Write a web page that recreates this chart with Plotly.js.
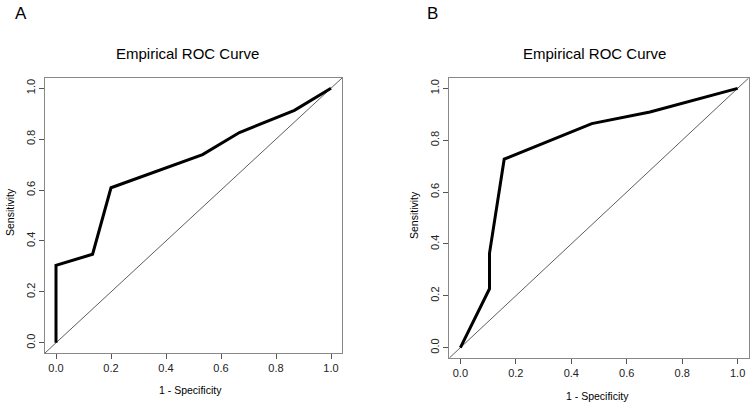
<!DOCTYPE html>
<html>
<head>
<meta charset="utf-8">
<script src="https://cdn.plot.ly/plotly-3.0.1.min.js"></script>
<style>html,body{margin:0;padding:0;background:#fff}#chart{width:754px;height:406px}</style>
</head>
<body>
<div id="chart"></div>
<script>
// Panel A ROC points
const fprA = [0, 0, 0.133, 0.2, 0.533, 0.667, 0.867, 1];
const tprA = [0, 0.304, 0.348, 0.609, 0.739, 0.826, 0.913, 1];
// Panel B ROC points
const fprB = [0, 0.105, 0.105, 0.158, 0.474, 0.684, 1];
const tprB = [0, 0.227, 0.364, 0.727, 0.864, 0.909, 1];
// Reference diagonal
const diag = [-0.04, 1.04];
const tickVals = [0, 0.2, 0.4, 0.6, 0.8, 1.0];
const panelLabels = ["A", "B"];
const plotTitle = "Empirical ROC Curve";
const xTitle = "1 - Specificity";
const yTitle = "Sensitivity";

const W = 754, H = 406;
const px = v => v / W;
const py = v => 1 - v / H;

const FONT = "Liberation Sans, Arial, sans-serif";

const traces = [
  {x: diag, y: diag, mode: "lines", line: {color: "#333", width: 0.8}, xaxis: "x", yaxis: "y", hoverinfo: "skip"},
  {x: fprA, y: tprA, mode: "lines", line: {color: "#000", width: 3}, xaxis: "x", yaxis: "y"},
  {x: diag, y: diag, mode: "lines", line: {color: "#333", width: 0.8}, xaxis: "x2", yaxis: "y2", hoverinfo: "skip"},
  {x: fprB, y: tprB, mode: "lines", line: {color: "#000", width: 3}, xaxis: "x2", yaxis: "y2"}
];

function ax(domain, anchor, isY) {
  return {
    domain: domain, anchor: anchor, range: [-0.04, 1.04],
    tickvals: tickVals, tickformat: ".1f",
    ticks: "outside", ticklen: 5, tickwidth: 1, tickcolor: "#555",
    showline: true, linecolor: "#888", linewidth: 1, mirror: true,
    showgrid: false, zeroline: false,
    tickfont: {family: FONT, size: 11, color: "#222"},
    tickangle: isY ? -90 : 0,
    fixedrange: true
  };
}

function ann(text, x, y, size, angle) {
  return {text: text, x: px(x), y: py(y), xref: "paper", yref: "paper",
    xanchor: "center", yanchor: "middle", showarrow: false,
    textangle: angle || 0, font: {family: FONT, size: size, color: "#000"}};
}

const layout = {
  width: W, height: H,
  margin: {l: 0, r: 0, t: 0, b: 0},
  paper_bgcolor: "#fff", plot_bgcolor: "#fff",
  showlegend: false,
  xaxis: ax([px(45), px(342)], "y", false),
  yaxis: ax([py(353), py(78)], "x", true),
  xaxis2: ax([px(449.3), px(748.7)], "y2", false),
  yaxis2: ax([py(358), py(78)], "x2", true),
  annotations: [
    ann(panelLabels[0], 21, 13, 17),
    ann(panelLabels[1], 432, 13, 17),
    ann(plotTitle, 187, 53, 15),
    ann(plotTitle, 594, 53, 15),
    ann(xTitle, 191, 390, 10.5),
    ann(xTitle, 597, 396, 10.5),
    ann(yTitle, 10, 212, 10.5, -90),
    ann(yTitle, 414, 215, 10.5, -90)
  ]
};

Plotly.newPlot("chart", traces, layout, {displayModeBar: false, staticPlot: true});
</script>
</body>
</html>
